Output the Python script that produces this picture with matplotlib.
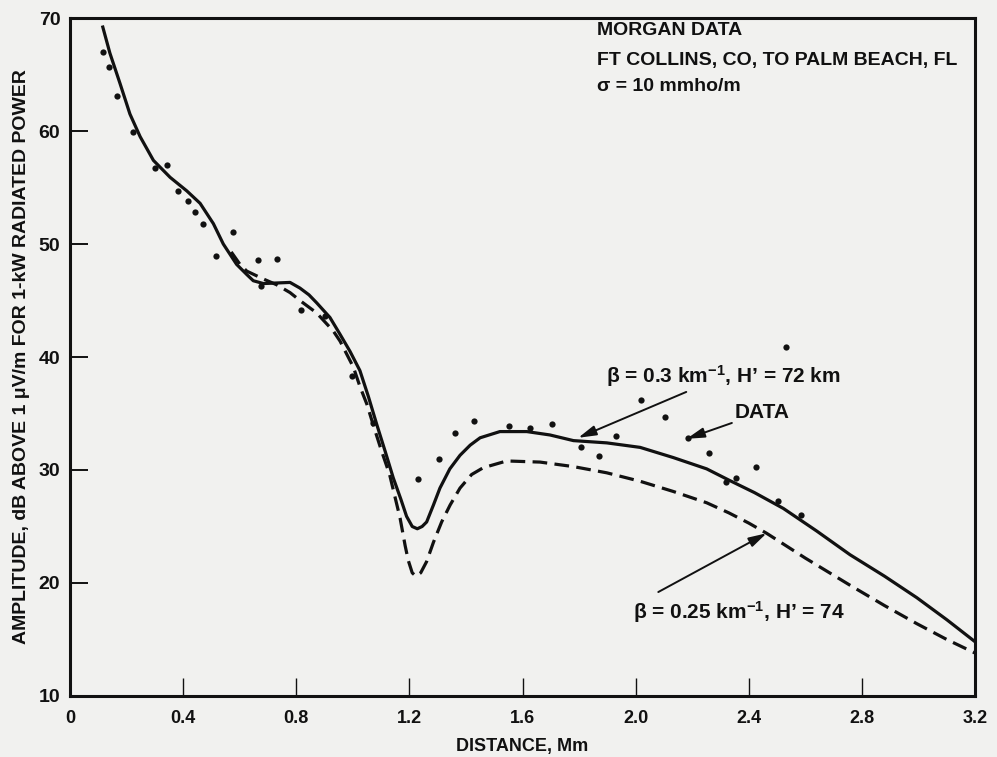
import matplotlib
matplotlib.use("Agg")
import matplotlib.pyplot as plt

plt.rcParams["font.family"] = ["Liberation Sans", "DejaVu Sans"]
plt.rcParams["mathtext.fontset"] = "custom"
plt.rcParams["mathtext.rm"] = "Liberation Sans:bold"
plt.rcParams["mathtext.bf"] = "Liberation Sans:bold"
plt.rcParams["mathtext.default"] = "bf"

# --- curve: beta = 0.3 /km, H' = 72 km (solid) ---
solid_x = [0.116, 0.141, 0.177, 0.212, 0.248, 0.295, 0.354, 0.413, 0.46, 0.507,
           0.542, 0.589, 0.625, 0.648, 0.684, 0.73, 0.778, 0.813, 0.845, 0.872,
           0.919, 0.955, 0.99, 1.025, 1.055, 1.085, 1.115, 1.143, 1.17, 1.19,
           1.21, 1.228, 1.245, 1.261, 1.285, 1.308, 1.343, 1.379, 1.415, 1.45,
           1.52, 1.615, 1.697, 1.78, 1.898, 2.016, 2.133, 2.251, 2.33, 2.42,
           2.522, 2.64, 2.758, 2.88, 2.994, 3.10, 3.2]
solid_y = [69.2, 66.9, 64.2, 61.5, 59.5, 57.4, 55.9, 54.7, 53.6, 51.8,
           50.0, 48.2, 47.3, 46.75, 46.5, 46.55, 46.6, 46.1, 45.5, 44.8,
           43.5, 42.0, 40.5, 38.8, 36.5, 34.0, 31.6, 29.3, 27.4, 25.9,
           25.0, 24.8, 25.0, 25.4, 26.9, 28.4, 30.1, 31.3, 32.2, 32.85,
           33.4, 33.4, 33.1, 32.6, 32.4, 32.0, 31.1, 30.1, 29.1, 28.0,
           26.6, 24.6, 22.5, 20.6, 18.7, 16.75, 14.8]

# --- curve: beta = 0.25 /km, H' = 74 km (dashed) ---
dash_x = [0.57, 0.601, 0.625, 0.684, 0.73, 0.778, 0.813, 0.872, 0.931, 0.955,
          1.002, 1.025, 1.05, 1.072, 1.10, 1.13, 1.167, 1.185, 1.196, 1.21,
          1.223, 1.24, 1.261, 1.285, 1.314, 1.344, 1.379, 1.42, 1.461, 1.544,
          1.662, 1.78, 1.898, 2.016, 2.133, 2.251, 2.33, 2.40, 2.463, 2.60,
          2.758, 2.88, 2.994, 3.10, 3.2]
dash_y = [49.3, 48.2, 47.6, 46.9, 46.4, 45.7, 45.0, 43.9, 42.3, 41.4,
          39.1, 37.4, 35.8, 34.0, 31.8, 29.6, 25.75, 23.3, 22.0, 20.9,
          20.6, 20.9, 21.9, 23.6, 25.4, 26.9, 28.4, 29.6, 30.2, 30.8,
          30.7, 30.3, 29.75, 29.0, 28.1, 27.1, 26.2, 25.3, 24.4, 22.2,
          19.8, 18.0, 16.4, 15.0, 13.8]

# --- Morgan measured data ---
data_x = [0.118, 0.139, 0.165, 0.222, 0.300, 0.343, 0.383, 0.417, 0.441, 0.469,
          0.517, 0.575, 0.664, 0.674, 0.731, 0.817, 0.902, 0.996, 1.072, 1.229,
          1.306, 1.36, 1.43, 1.551, 1.626, 1.705, 1.807, 1.872, 1.931, 2.019,
          2.104, 2.184, 2.261, 2.318, 2.354, 2.427, 2.505, 2.532, 2.585]
data_y = [67.0, 65.7, 63.1, 59.95, 56.7, 57.0, 54.7, 53.8, 52.8, 51.8,
          48.9, 51.1, 48.6, 46.3, 48.7, 44.2, 43.6, 38.3, 34.2, 29.2,
          31.0, 33.3, 34.3, 33.9, 33.7, 34.1, 32.0, 31.2, 33.0, 36.2,
          34.7, 32.8, 31.5, 28.9, 29.3, 30.3, 27.3, 40.9, 26.0]

x_ticks = [0, 0.4, 0.8, 1.2, 1.6, 2.0, 2.4, 2.8, 3.2]
x_labels = ["0", "0.4", "0.8", "1.2", "1.6", "2.0", "2.4", "2.8", "3.2"]
y_ticks = [10, 20, 30, 40, 50, 60, 70]

paper = "#f1f1ef"
ink = "#111111"

fig = plt.figure(figsize=(9.97, 7.57), dpi=100, facecolor=paper)
ax = fig.add_axes([0.0702, 0.0806, 0.9078, 0.8956], facecolor=paper)

ax.plot(solid_x, solid_y, color=ink, lw=2.3, solid_joinstyle="round")
ax.plot(dash_x, dash_y, color=ink, lw=2.3, dashes=(4.6, 2.3))
ax.plot(data_x, data_y, "o", color=ink, ms=4.5, mew=0)

ax.set_xlim(0, 3.2)
ax.set_ylim(10, 70)
ax.set_xticks(x_ticks)
ax.set_xticklabels(x_labels)
ax.set_yticks(y_ticks)
ax.tick_params(axis="x", direction="in", length=13, width=1.0, pad=10,
               labelsize=13, colors=ink)
ax.tick_params(axis="y", direction="in", length=13, width=1.4, pad=7,
               labelsize=14, colors=ink)
for lab in ax.get_xticklabels() + ax.get_yticklabels():
    lab.set_fontweight("bold")
for s in ax.spines.values():
    s.set_linewidth(2.2)
    s.set_color(ink)

ax.set_xlabel("DISTANCE, Mm", fontsize=13, fontweight="bold", color=ink,
              labelpad=8)
ax.set_ylabel("AMPLITUDE, dB ABOVE 1 μV/m FOR 1-kW RADIATED POWER",
              fontsize=14, fontweight="bold", color=ink, labelpad=6)

# header block
ax.text(1.863, 68.9, "MORGAN DATA", fontsize=14, fontweight="bold",
        color=ink, va="center")
ax.text(1.863, 66.2, "FT COLLINS, CO, TO PALM BEACH, FL", fontsize=14,
        fontweight="bold", color=ink, va="center")
ax.text(1.863, 63.9, "σ = 10 mmho/m", fontsize=14, fontweight="bold",
        color=ink, va="center")

# annotations
arrow = dict(arrowstyle="-|>,head_length=0.9,head_width=0.25", color=ink,
             lw=1.4, mutation_scale=12, shrinkA=0, shrinkB=0)
ax.annotate("β = 0.3 km$^{-1}$, H’ = 72 km", xy=(1.797, 32.85),
            xytext=(1.895, 38.3), fontsize=15, fontweight="bold",
            color=ink, va="center", ha="left", arrowprops=arrow)
ax.annotate("DATA", xy=(2.18, 32.76), xytext=(2.35, 35.1),
            fontsize=15, fontweight="bold", color=ink, va="center",
            ha="left", arrowprops=arrow)
ax.annotate("", xy=(2.463, 24.4), xytext=(2.08, 19.2), arrowprops=arrow)
ax.text(1.99, 17.4, "β = 0.25 km$^{-1}$, H’ = 74", fontsize=15,
        fontweight="bold", color=ink, va="center", ha="left")

fig.savefig("out.png", dpi=100, facecolor=paper)
